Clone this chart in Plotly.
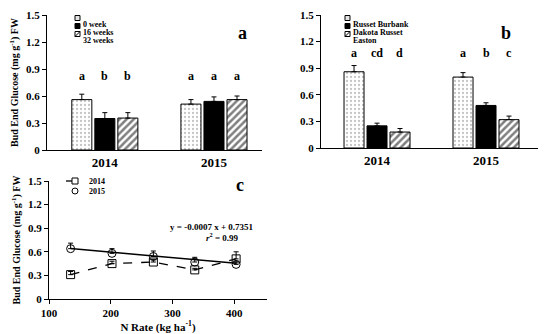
import plotly.graph_objects as go

# ---------------- data ----------------
years = ["2014", "2015"]

# panel a: storage duration
storage_names = ["0 week", "16 weeks", "32 weeks"]
storage_vals = [[0.56, 0.51], [0.35, 0.54], [0.355, 0.56]]
storage_err = [[0.06, 0.05], [0.065, 0.05], [0.06, 0.04]]
storage_letters = [["a", "a"], ["b", "a"], ["b", "a"]]

# panel b: cultivar
cultivar_names = ["Russet Burbank", "Dakota Russet", "Easton"]
cultivar_vals = [[0.86, 0.80], [0.25, 0.48], [0.18, 0.32]]
cultivar_err = [[0.07, 0.05], [0.03, 0.03], [0.04, 0.04]]
cultivar_letters = [["a", "a"], ["cd", "b"], ["d", "c"]]

# panel c: N rate
n_rate = [135, 202, 269, 336, 403]
g2014 = [0.31, 0.45, 0.47, 0.37, 0.51]
e2014 = [0.04, 0.03, 0.03, 0.02, 0.09]
g2015 = [0.64, 0.58, 0.54, 0.47, 0.44]
e2015 = [0.07, 0.06, 0.07, 0.06, 0.04]
slope, intercept = -0.0007, 0.7351

y_ticks = [0, 0.3, 0.6, 0.9, 1.2, 1.5]
y_ticktext = ["0", "0.3", "0.6", "0.9", "1.2", "1.5"]
x_ticks_c = [100, 200, 300, 400]

# ---------------- styling ----------------
FONT = "Liberation Serif"
W, H = 550, 334
OFF = 8  # page body margin offset
patterns = [
    dict(shape=".", fgcolor="#8a8a8a", bgcolor="white", size=4, solidity=0.25),
    dict(shape="", fgcolor="black", bgcolor="black"),
    dict(shape="/", fgcolor="black", bgcolor="white", size=5, solidity=0.5),
]
fills = ["white", "black", "white"]


def px_x(p):
    return (p - OFF) / W


def px_y(p):
    return 1 - (p - OFF) / H


def bfont(size):
    return dict(family=FONT, size=size, color="black", weight="bold")


fig = go.Figure()

# bars panel a and b
for i in range(3):
    fig.add_trace(go.Bar(
        x=years, y=storage_vals[i], name=storage_names[i], showlegend=False,
        marker=dict(color=fills[i], pattern=patterns[i], line=dict(color="black", width=1)),
        error_y=dict(type="data", array=storage_err[i], arrayminus=[0, 0], symmetric=False,
                     color="black", thickness=1, width=2.5),
        xaxis="x", yaxis="y",
    ))
for i in range(3):
    fig.add_trace(go.Bar(
        x=years, y=cultivar_vals[i], name=cultivar_names[i], showlegend=False,
        marker=dict(color=fills[i], pattern=patterns[i], line=dict(color="black", width=1)),
        error_y=dict(type="data", array=cultivar_err[i], arrayminus=[0, 0], symmetric=False,
                     color="black", thickness=1, width=2.5),
        xaxis="x2", yaxis="y2",
    ))

# panel c
fig.add_trace(go.Scatter(
    x=n_rate, y=g2014, name="2014", mode="lines+markers", showlegend=False,
    line=dict(color="black", width=1.3, dash="dash"),
    marker=dict(symbol="square-open", size=8, color="black", line=dict(width=1)),
    error_y=dict(type="data", array=e2014, arrayminus=[0] * 5, symmetric=False,
                 color="black", thickness=1, width=2.5),
    xaxis="x3", yaxis="y3",
))
fig.add_trace(go.Scatter(
    x=[n_rate[0], n_rate[-1]],
    y=[slope * n_rate[0] + intercept, slope * n_rate[-1] + intercept],
    mode="lines", line=dict(color="black", width=1.5), showlegend=False,
    xaxis="x3", yaxis="y3",
))
fig.add_trace(go.Scatter(
    x=n_rate, y=g2015, name="2015", mode="markers", showlegend=False,
    marker=dict(symbol="circle-open", size=8, color="black", line=dict(width=1)),
    error_y=dict(type="data", array=e2015, arrayminus=[0] * 5, symmetric=False,
                 color="black", thickness=1, width=2.5),
    xaxis="x3", yaxis="y3",
))

yax_common = dict(range=[0, 1.5], tickvals=y_ticks, ticktext=y_ticktext, ticks="outside",
                  ticklen=4, tickcolor="black", showline=True, linecolor="black", linewidth=1,
                  showgrid=False, zeroline=False, tickfont=bfont(11), automargin=False)
xbar_common = dict(type="category", showline=True, linecolor="black", linewidth=1,
                   ticks="", showgrid=False, tickfont=bfont(13), automargin=False)

ytitle = dict(text="Bud End Glucose (mg g<sup>-1</sup>) FW", font=bfont(10), standoff=5)

fig.update_layout(
    width=W, height=H, margin=dict(l=0, r=0, t=0, b=0),
    paper_bgcolor="white", plot_bgcolor="white",
    font=dict(family=FONT, color="black"),
    showlegend=False,
    barmode="group", bargap=0.367, bargroupgap=0.13,
    xaxis=dict(domain=[px_x(47), px_x(262)], anchor="y", range=[-0.53, 1.44], **xbar_common),
    yaxis=dict(domain=[px_y(150), px_y(15)], anchor="x", title=ytitle, **yax_common),
    xaxis2=dict(domain=[px_x(321), px_x(538)], anchor="y2", range=[-0.514, 1.477], **xbar_common),
    yaxis2=dict(domain=[px_y(148), px_y(15)], anchor="x2", **yax_common),
    xaxis3=dict(domain=[px_x(49), px_x(267)], anchor="y3", range=[100, 453],
                tickvals=x_ticks_c, ticks="outside", ticklen=4, tickcolor="black",
                showline=True, linecolor="black", linewidth=1, showgrid=False, zeroline=False,
                tickfont=bfont(11), automargin=False,
                title=dict(text="N Rate (kg ha<sup>-1</sup>)", font=bfont(11), standoff=4)),
    yaxis3=dict(domain=[px_y(299), px_y(181)], anchor="x3", title=ytitle, **yax_common),
)

annots = []
shapes = []
offsets = [-0.21, 0, 0.21]
for i in range(3):
    for j in range(2):
        annots.append(dict(x=j + offsets[i], y=0.82, xref="x", yref="y", text=storage_letters[i][j],
                           showarrow=False, font=bfont(12)))
        annots.append(dict(x=j + offsets[i], y=1.07, xref="x2", yref="y2", text=cultivar_letters[i][j],
                           showarrow=False, font=bfont(12)))
for lab, xp, yp in [("a", 242, 21), ("b", 513, 21), ("c", 240, 185)]:
    annots.append(dict(x=px_x(xp), y=px_y(yp), xref="paper", yref="paper", text=lab,
                       showarrow=False, font=bfont(18)))
annots.append(dict(x=px_x(256), y=px_y(234), xref="paper", yref="paper", xanchor="right",
                   text="y = -0.0007 x + 0.7351", showarrow=False, font=bfont(9)))
annots.append(dict(x=px_x(241), y=px_y(245), xref="paper", yref="paper", xanchor="right",
                   text="<i>r</i><sup>2</sup> = 0.99", showarrow=False, font=bfont(9)))

# ---- compact legends (drawn manually) ----
def swatch(kind, cx, cy, s=5):
    x0, x1 = px_x(cx - s / 2), px_x(cx + s / 2)
    y0, y1 = px_y(cy + s / 2), px_y(cy - s / 2)
    fill = {"dot": "#e4e4e4", "solid": "black", "hatch": "white"}[kind]
    shapes.append(dict(type="rect", xref="paper", yref="paper", x0=x0, x1=x1, y0=y0, y1=y1,
                       fillcolor=fill, line=dict(color="black", width=1)))
    if kind == "hatch":
        shapes.append(dict(type="line", xref="paper", yref="paper", x0=x0, x1=x1, y0=y0, y1=y1,
                           line=dict(color="black", width=1)))

kinds = ["dot", "solid", "hatch"]
leg_rows = [18, 26, 34]
for k, name, yy in zip(kinds, storage_names, leg_rows):
    swatch(k, 77.5, yy)
    annots.append(dict(x=px_x(81), y=px_y(yy), xref="paper", yref="paper", xanchor="left",
                       text=name, showarrow=False, font=bfont(8)))
for k, name, yy in zip(kinds, cultivar_names, leg_rows):
    swatch(k, 347.5, yy)
    annots.append(dict(x=px_x(351), y=px_y(yy), xref="paper", yref="paper", xanchor="left",
                       text=name, showarrow=False, font=bfont(8)))

# panel c legend
shapes.append(dict(type="line", xref="paper", yref="paper", x0=px_x(66), x1=px_x(84),
                   y0=px_y(181), y1=px_y(181), line=dict(color="black", width=1.3, dash="dash")))
shapes.append(dict(type="rect", xref="paper", yref="paper", x0=px_x(72), x1=px_x(78),
                   y0=px_y(184), y1=px_y(178), fillcolor="white", line=dict(color="black", width=1)))
shapes.append(dict(type="circle", xref="paper", yref="paper", x0=px_x(72), x1=px_x(78),
                   y0=px_y(194), y1=px_y(188), fillcolor="white", line=dict(color="black", width=1)))
for name, yy in [("2014", 181), ("2015", 191)]:
    annots.append(dict(x=px_x(87), y=px_y(yy), xref="paper", yref="paper", xanchor="left",
                       text=name, showarrow=False, font=bfont(8)))

fig.update_layout(annotations=annots, shapes=shapes)

fig.write_html("out.html")
